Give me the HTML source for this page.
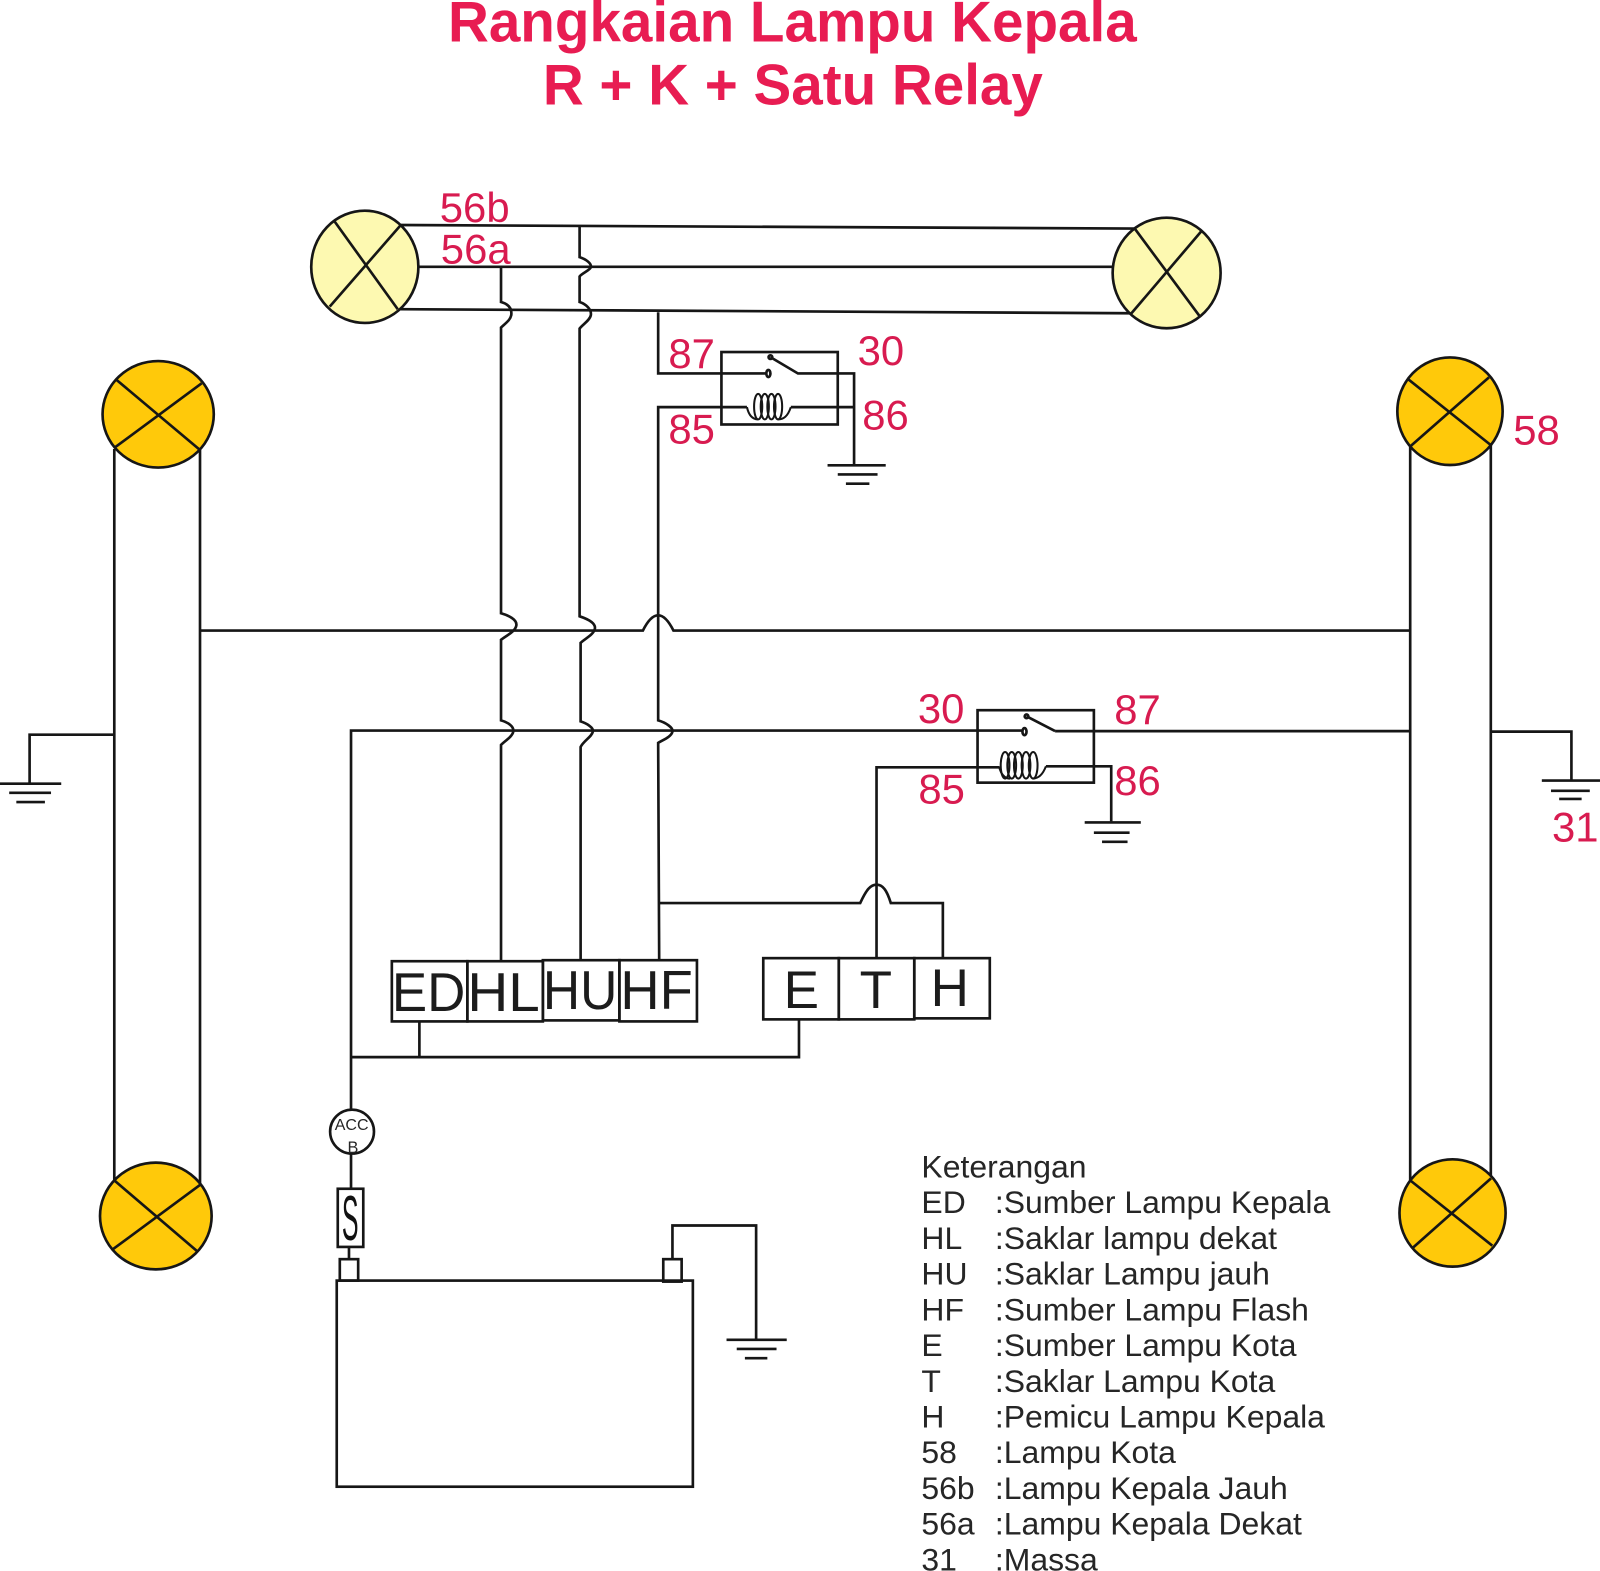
<!DOCTYPE html>
<html><head><meta charset="utf-8"><title>Rangkaian Lampu Kepala</title>
<style>html,body{margin:0;padding:0;background:#fff}svg{display:block}text{font-family:"Liberation Sans",sans-serif}.w{fill:none;stroke:#161616;stroke-width:2.6;stroke-linejoin:miter}.n{fill:#d81b50;font-size:41px}.t{fill:#e81c52;font-weight:bold;font-size:56px}.b{fill:#1c1c1c;font-size:54px}.l{fill:#262626;font-size:31.3px}</style></head><body>
<svg width="1600" height="1571" viewBox="0 0 1568 1539.6" xmlns="http://www.w3.org/2000/svg">
<rect width="1568" height="1540" fill="#fff"/>
<text class="t" x="439" y="40.5" textLength="675" lengthAdjust="spacingAndGlyphs">Rangkaian Lampu Kepala</text>
<text class="t" x="532" y="102.5" textLength="490" lengthAdjust="spacingAndGlyphs">R + K + Satu Relay</text>
<g class="w">
<path d="M390 220.5L1112 224M410 261.5H1091M392 303L1108 307"/>
<path d="M491 262V296C498 298 502 302 501 309C500 314 495 317 491 321V601C498 603 507 607 506 613C505 619 496 623 491 627V706C498 708 504 712 503 717C502 722 495 726 491 730V942"/>
<path d="M568 222V252C574 254 580 258 579 262C578 265 570 268 568 271V296C574 298 580 303 579 309C578 314 571 318 568 322V604C574 606 584 610 583 616C582 622 573 626 569 630V707C575 709 582 713 581 717C580 722 572 726 569 732V942"/>
<path d="M645 306V366H752"/>
<path d="M707 399H645V706C652 708 660 713 659 717C658 722 650 725 645 728L646 942"/>
<path d="M646 885H843C849 872 853 867 859 867C865 867 869 872 873 885H924V939"/>
<path d="M196 618H630C635 608 640 603 645 603C650 603 655 608 660 618H1382"/>
<path d="M344 1087V716H1002M1034 716.5H1382"/>
<path d="M755 350L782 366H837V455M707 399H732M775 399H837"/>
<rect x="707" y="345" width="114" height="71"/>
<ellipse cx="753" cy="366" rx="2" ry="3.5"/><circle cx="755" cy="350" r="1.8"/>
<g stroke-width="2">
<path d="M732 399C734 408 738 411 743 411M762 411C768 411 772 408 775 399"/>
<ellipse cx="743" cy="398.5" rx="4" ry="12.5"/><ellipse cx="749.5" cy="398.5" rx="4" ry="12.5"/><ellipse cx="756" cy="398.5" rx="4" ry="12.5"/><ellipse cx="762.5" cy="398.5" rx="4" ry="12.5"/>
</g>
<path d="M811 456H868M821 465H860M829 474H852"/>
<rect x="958" y="696" width="114" height="71"/>
<ellipse cx="1004" cy="717" rx="2" ry="3.5"/><circle cx="1006" cy="702" r="1.8"/>
<path d="M1006 702L1034 716.5"/>
<path d="M859 939V752H979M1025 751H1089V805"/>
<g stroke-width="2">
<path d="M979 751C981 759 985 763 990 763M1012 763C1018 763 1022 759 1025 751"/>
<ellipse cx="985" cy="750" rx="4.3" ry="13"/><ellipse cx="991.5" cy="750" rx="4.3" ry="13"/><ellipse cx="998" cy="750" rx="4.3" ry="13"/><ellipse cx="1005.5" cy="750" rx="4.3" ry="13"/><ellipse cx="1012.5" cy="750" rx="4.3" ry="13"/>
</g>
<path d="M1063 806H1118M1072 816H1107M1080 825H1105"/>
<path d="M411 1002V1036M344 1036H783V1000"/>
<path d="M344 1131V1165M342 1222V1234"/>
<rect x="331" y="1165" width="25" height="57"/>
<rect x="333" y="1234" width="18" height="21"/>
<rect x="650" y="1234" width="18" height="22"/>
<rect x="330" y="1255" width="349" height="202"/>
<path d="M659 1234V1201H741V1312M712 1313H771M722 1322H761M730 1331H752"/>
<path d="M112 440V1160M196 440V1160M1382 438V1158M1461 436V1156"/>
<path d="M112 720H29V768M0 768H60M9 777H50M16 786H44"/>
<path d="M1461 717H1540V765M1511 765H1568M1520 775H1558M1528 783H1550"/>
<rect x="384" y="942" width="74" height="59"/><rect x="458" y="942" width="74" height="59"/><rect x="532" y="941" width="75" height="59"/><rect x="607" y="941" width="76" height="60"/>
<rect x="748" y="939" width="74" height="60"/><rect x="822" y="939" width="74" height="60"/><rect x="896" y="939" width="74" height="59"/>
</g>
<g stroke="#161616" stroke-width="2.6">
<ellipse cx="357.5" cy="261.5" rx="52.5" ry="55" fill="#fdf9b1"/>
<ellipse cx="1143.3" cy="267.5" rx="52.9" ry="54.2" fill="#fdf9b1"/>
<ellipse cx="155" cy="406" rx="54.5" ry="52.2" fill="#ffc90a"/>
<ellipse cx="152.7" cy="1191.7" rx="54.7" ry="52.3" fill="#ffc90a"/>
<ellipse cx="1421" cy="403" rx="51.6" ry="52.7" fill="#ffc90a"/>
<ellipse cx="1423.5" cy="1188.7" rx="52" ry="52.6" fill="#ffc90a"/>
<circle cx="345" cy="1109" r="21.5" fill="#fff"/>
<path fill="none" d="M328.1 217.3L389.8 303.1M392.8 220.5L323.1 300.5M1112.3 224.4L1175.3 309.4M1177 227L1108 308M114.3 372.4L195.3 440.4M197.6 375.7L112.7 438.4M112.7 1157.4L192.7 1225.7M196 1161.3L111 1224M1380.1 371.7L1460.9 436.1M1459.2 369.8L1382.5 437.1M1382.8 1157.4L1462.5 1220.8M1461.2 1154.8L1385 1222.4"/>
</g>
<g class="n">
<text x="431" y="217.5">56b</text><text x="432" y="258">56a</text>
<text x="655" y="360.5">87</text><text x="840.5" y="357.5">30</text><text x="655" y="434.5">85</text><text x="845" y="421">86</text>
<text x="899.5" y="708.5">30</text><text x="1092" y="709.5">87</text><text x="900" y="787.5">85</text><text x="1092" y="779">86</text>
<text x="1483" y="435.5">58</text><text x="1521" y="824.5">31</text>
</g>
<g class="b">
<text x="384" y="991" textLength="72" lengthAdjust="spacingAndGlyphs">ED</text>
<text x="458" y="991" textLength="71" lengthAdjust="spacingAndGlyphs">HL</text>
<text x="532" y="989" textLength="73" lengthAdjust="spacingAndGlyphs">HU</text>
<text x="608" y="989" textLength="71" lengthAdjust="spacingAndGlyphs">HF</text>
<text x="768" y="988" font-size="52">E</text><text x="842.5" y="988" font-size="52">T</text><text x="912" y="986" font-size="52">H</text>
</g>
<text x="328" y="1107.5" font-size="15.7" fill="#262626">ACC</text>
<text x="340.5" y="1130" font-size="16" fill="#262626">B</text>
<text transform="translate(335 1215) scale(0.68 1.72)" font-size="36" fill="#111">S</text>
<g class="l">
<text x="903" y="1154">Keterangan</text>
<text x="903" y="1189">ED</text><text x="975" y="1189">:Sumber Lampu Kepala</text>
<text x="903" y="1224">HL</text><text x="975" y="1224">:Saklar lampu dekat</text>
<text x="903" y="1259">HU</text><text x="975" y="1259">:Saklar Lampu jauh</text>
<text x="903" y="1294">HF</text><text x="975" y="1294">:Sumber Lampu Flash</text>
<text x="903" y="1329">E</text><text x="975" y="1329">:Sumber Lampu Kota</text>
<text x="903" y="1364">T</text><text x="975" y="1364">:Saklar Lampu Kota</text>
<text x="903" y="1399">H</text><text x="975" y="1399">:Pemicu Lampu Kepala</text>
<text x="903" y="1434">58</text><text x="975" y="1434">:Lampu Kota</text>
<text x="903" y="1469">56b</text><text x="975" y="1469">:Lampu Kepala Jauh</text>
<text x="903" y="1504">56a</text><text x="975" y="1504">:Lampu Kepala Dekat</text>
<text x="903" y="1539">31</text><text x="975" y="1539">:Massa</text>
</g>
</svg>
</body></html>
